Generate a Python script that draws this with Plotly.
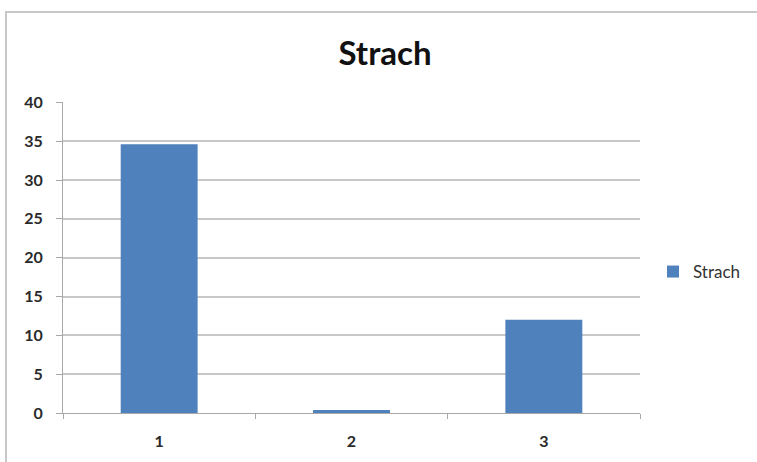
import plotly.graph_objects as go

# Data
categories = ["1", "2", "3"]
strach = [34.6, 0.4, 12.0]
y_ticks = [0, 5, 10, 15, 20, 25, 30, 35, 40]
series_name = "Strach"
title_text = "Strach"

W, H = 757, 462
L, R, T, B = 63, 117, 102, 49
plot_w = W - L - R
plot_h = H - T - B

fig = go.Figure(
    go.Bar(
        x=categories,
        y=strach,
        name=series_name,
        marker=dict(color="#4F81BD", line=dict(width=0)),
        showlegend=True,
    )
)

# Outer chart frame (extends past the visible page on the right and bottom)
fig.add_shape(
    type="rect",
    xref="paper", yref="paper",
    x0=(6 - L) / plot_w, x1=(W + 20 - L) / plot_w,
    y0=(H - B - (H + 20)) / plot_h, y1=(H - B - 12) / plot_h,
    line=dict(color="#C8C8C8", width=2),
    fillcolor="rgba(0,0,0,0)",
    layer="below",
)

tick_font = dict(family="Lato", size=16, color="#2A2A2A", weight="bold")

fig.update_layout(
    width=W,
    height=H,
    margin=dict(l=L, r=R, t=T, b=B, autoexpand=False),
    paper_bgcolor="white",
    plot_bgcolor="white",
    bargap=0.6,
    font=dict(family="Lato", size=12, color="#333333"),
    title=dict(
        text="<b>%s</b>" % title_text,
        x=385 / W,
        xanchor="center",
        y=1 - 53 / H,
        yanchor="middle",
        xref="container",
        yref="container",
        font=dict(family="Lato", size=33, color="#111111"),
    ),
    legend=dict(
        x=(653 - L) / plot_w,
        xanchor="left",
        y=(H - B - 272) / plot_h,
        yanchor="middle",
        font=dict(family="Lato", size=17, color="#333333"),
        bgcolor="rgba(0,0,0,0)",
        itemsizing="constant",
    ),
    xaxis=dict(
        type="category",
        tickson="boundaries",
        ticks="outside",
        ticklen=5,
        tickcolor="#A8A8A8",
        tickwidth=1,
        showline=True,
        linecolor="#A8A8A8",
        linewidth=1,
        showgrid=False,
        ticklabelstandoff=14,
        tickfont=tick_font,
    ),
    yaxis=dict(
        range=[0, 40.05],
        tickvals=y_ticks,
        ticks="outside",
        ticklen=6,
        tickcolor="#A8A8A8",
        showline=True,
        linecolor="#A8A8A8",
        linewidth=1,
        showgrid=True,
        gridcolor="#C8C8C8",
        gridwidth=1.5,
        zeroline=False,
        ticklabelstandoff=10,
        tickfont=tick_font,
    ),
)

fig.write_html("out.html")
